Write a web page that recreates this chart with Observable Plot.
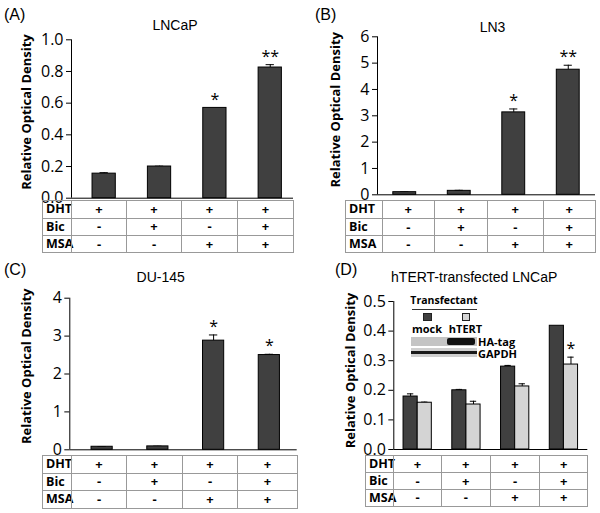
<!DOCTYPE html>
<html><head><meta charset="utf-8">
<script src="https://cdn.jsdelivr.net/npm/d3@7"></script>
<script src="https://cdn.jsdelivr.net/npm/@observablehq/plot@0.6"></script>
<style>
body{margin:0;background:#fff;}
#fig{position:relative;width:600px;height:513px;overflow:hidden;background:#fff;}
.plot{position:absolute;}
.lbl{position:absolute;font-family:"Liberation Sans",Arial,sans-serif;font-size:16px;line-height:1;transform:translateY(-50%);color:#000;}
.ttl{position:absolute;font-family:"Liberation Sans",Arial,sans-serif;font-size:14px;line-height:1;transform:translate(-50%,-50%);white-space:nowrap;color:#000;}
.cell{position:absolute;box-sizing:border-box;border:1px solid #999;font-family:"Open Sans",sans-serif;font-weight:bold;font-size:13px;line-height:1;display:flex;align-items:center;justify-content:center;color:#000;}
.cell.name{justify-content:flex-start;padding-left:3px;font-size:12.5px;}
.ins{position:absolute;font-family:"Open Sans",sans-serif;font-weight:bold;font-size:10.5px;line-height:1;white-space:nowrap;color:#000;}
.box{position:absolute;box-sizing:border-box;}
</style></head>
<body><div id="fig"></div>
<script>
// ---- data ----
const conditionNames = ["DHT", "Bic", "MSA"];
const dht = ["+", "+", "+", "+"];
const bic = ["-", "+", "-", "+"];
const msa = ["-", "-", "+", "+"];

const lncapVal = [0.155, 0.200, 0.570, 0.825];
const lncapErr = [0.006, 0.002, 0.000, 0.018];
const lncapSig = ["", "", "*", "**"];

const ln3Val = [0.10, 0.15, 3.13, 4.75];
const ln3Err = [0.01, 0.02, 0.13, 0.17];
const ln3Sig = ["", "", "*", "**"];

const du145Val = [0.08, 0.09, 2.88, 2.50];
const du145Err = [0.005, 0.005, 0.15, 0.02];
const du145Sig = ["", "", "*", "*"];

const mockVal = [0.179, 0.200, 0.280, 0.418];
const mockErr = [0.009, 0.003, 0.004, 0.000];
const mockSig = ["", "", "", ""];
const htertVal = [0.158, 0.152, 0.213, 0.287];
const htertErr = [0.002, 0.011, 0.009, 0.025];
const htertSig = ["", "", "", "*"];

const ticksA = [0, 0.2, 0.4, 0.6, 0.8, 1.0];
const ticksB = [0, 1, 2, 3, 4, 5, 6];
const ticksC = [0, 1, 2, 3, 4];
const ticksD = [0, 0.1, 0.2, 0.3, 0.4, 0.5];

const titles = ["LNCaP", "LN3", "DU-145", "hTERT-transfected LNCaP"];
const letters = ["(A)", "(B)", "(C)", "(D)"];
const yLabel = "Relative Optical Density";
const insetLegend = ["mock", "hTERT"];
const blotRows = ["HA-tag", "GAPDH"];

const DARK = "#404040", LIGHT = "#d4d4d4";
const fig = document.getElementById("fig");

function chart(o) {
  const rows = [];
  o.series.forEach(s => s.values.forEach((v, i) => {
    rows.push({x1: i + s.off, x2: i + s.off + s.w, xc: i + s.off + s.w / 2,
      v, e: s.errs[i], top: v + s.errs[i], sig: s.sigs[i], fill: s.fill});
  }));
  const errs = rows.filter(d => d.e > 0);
  const p = Plot.plot({
    width: 300, height: 205,
    marginLeft: o.ml, marginRight: o.mr, marginTop: o.mt, marginBottom: o.mb,
    style: {fontFamily: "Open Sans, sans-serif", fontSize: "16px", background: "transparent", overflow: "visible", color: "#000"},
    x: {domain: o.xDomain, axis: null},
    y: {domain: [0, o.ticks[o.ticks.length - 1]], axis: null},
    marks: [
      Plot.ruleX(errs, {x: "xc", y1: "v", y2: "top", stroke: "black", strokeWidth: 1}),
      Plot.ruleY(errs, {y: "top", x1: d => d.xc - o.cap, x2: d => d.xc + o.cap, stroke: "black", strokeWidth: 1}),
      Plot.rect(rows, {x1: "x1", x2: "x2", y1: 0, y2: "v", fill: "fill", stroke: "black", strokeWidth: 1}),
      Plot.ruleY([0], {stroke: "black", strokeWidth: 1}),
      Plot.ruleX([o.xDomain[0]], {stroke: "black", strokeWidth: 1}),
      Plot.axisY({ticks: o.ticks, tickFormat: o.fmt, tickSize: 5, tickPadding: 3, fontSize: 16, label: null, stroke: "black"}),
      Plot.text(rows.filter(d => d.sig), {x: "xc", y: "top", text: "sig", dy: o.sigDy, fontSize: 16, fill: "black"}),
      Plot.text([yLabel], {frameAnchor: "left", textAnchor: "middle", lineAnchor: "middle", rotate: -90, dx: o.labDx, dy: o.labDy, fontWeight: "bold", fontSize: 13, fill: "black"})
    ]
  });
  p.classList.add("plot");
  p.style.left = o.left + "px";
  p.style.top = o.top + "px";
  fig.appendChild(p);
}

function table(o) {
  const cols = [o.left, o.labelEnd, ...o.colEnds];
  const vals = [dht, bic, msa];
  conditionNames.forEach((name, r) => {
    const y0 = o.rows[r], y1 = o.rows[r + 1];
    for (let c = 0; c < cols.length - 1; c++) {
      const d = document.createElement("div");
      d.className = "cell" + (c === 0 ? " name" : "");
      d.style.left = cols[c] + "px";
      d.style.top = y0 + "px";
      d.style.width = (cols[c + 1] - cols[c] + 1) + "px";
      d.style.height = (y1 - y0 + 1) + "px";
      d.textContent = c === 0 ? name : vals[r][c - 1];
      fig.appendChild(d);
    }
  });
}

function addText(cls, txt, x, y, extra) {
  const d = document.createElement("div");
  d.className = cls; d.textContent = txt;
  d.style.left = x + "px"; d.style.top = y + "px";
  if (extra) Object.assign(d.style, extra);
  fig.appendChild(d);
  return d;
}
function addBox(x, y, w, h, styles) {
  const d = document.createElement("div");
  d.className = "box";
  Object.assign(d.style, {left: x + "px", top: y + "px", width: w + "px", height: h + "px"}, styles);
  fig.appendChild(d);
}

// Panel A
chart({left: 0, top: 0, ml: 71, mr: 7, mt: 39.3, mb: 7.3, xDomain: [-0.59, 3.42], ticks: ticksA, fmt: d3.format(".1f"),
  cap: 0.075, sigDy: -8, labDx: -44.3, labDy: -7,
  series: [{values: lncapVal, errs: lncapErr, sigs: lncapSig, fill: DARK, off: -0.21, w: 0.42}]});
table({left: 42, labelEnd: 71, colEnds: [126, 181, 237, 293], rows: [200, 217.5, 235, 252]});

// Panel B
chart({left: 300, top: 0, ml: 77, mr: 5, mt: 36.3, mb: 10.7, xDomain: [-0.5, 3.5], ticks: ticksB, fmt: d3.format("d"),
  cap: 0.075, sigDy: -8, labDx: -41.3, labDy: -6,
  series: [{values: ln3Val, errs: ln3Err, sigs: ln3Sig, fill: DARK, off: -0.21, w: 0.42}]});
table({left: 345, labelEnd: 381.5, colEnds: [434, 487, 542.5, 595], rows: [200, 218, 235, 252]});

// Panel C
chart({left: 0, top: 255, ml: 69.3, mr: 3.3, mt: 42.7, mb: 10.7, xDomain: [-0.58, 3.5], ticks: ticksC, fmt: d3.format("d"),
  cap: 0.075, sigDy: -8, labDx: -42.6, labDy: -7.7,
  series: [{values: du145Val, errs: du145Err, sigs: du145Sig, fill: DARK, off: -0.19, w: 0.38}]});
table({left: 42, labelEnd: 71, colEnds: [126, 182, 237, 297], rows: [455, 472.5, 490, 508]});

// Panel D
chart({left: 300, top: 255, ml: 93.3, mr: 12.7, mt: 46, mb: 11, xDomain: [-0.49, 3.49], ticks: ticksD, fmt: d3.format(".1f"),
  cap: 0.065, sigDy: -8, labDx: -43.3, labDy: -5,
  series: [
    {values: mockVal, errs: mockErr, sigs: mockSig, fill: DARK, off: -0.29, w: 0.29},
    {values: htertVal, errs: htertErr, sigs: htertSig, fill: LIGHT, off: 0, w: 0.29}
  ]});
table({left: 365, labelEnd: 393.3, colEnds: [440.7, 490, 539, 587.3], rows: [455, 472, 489, 505.5]});

// Letters and titles
addText("lbl", letters[0], 4, 15);
addText("lbl", letters[1], 315, 15);
addText("lbl", letters[2], 4, 270);
addText("lbl", letters[3], 335, 270);
addText("ttl", titles[0], 175, 25);
addText("ttl", titles[1], 492.5, 26.5);
addText("ttl", titles[2], 160.7, 276.7);
addText("ttl", titles[3], 474.2, 276.7);

// Inset in panel D (transfectant legend and blot)
addText("ins", "Transfectant", 444, 300, {transform: "translate(-50%,-50%)"});
addBox(411.7, 308.5, 65, 1, {background: "#333"});
addBox(423.3, 312.7, 8.4, 8, {background: DARK, border: "1px solid #222"});
addBox(461.7, 312.7, 8.4, 8, {background: LIGHT, border: "1px solid #222"});
addText("ins", insetLegend[0], 427, 328.3, {transform: "translate(-50%,-50%)", fontSize: "11px"});
addText("ins", insetLegend[1], 465.5, 328.3, {transform: "translate(-50%,-50%)", fontSize: "11px"});
addBox(411, 336.7, 66, 9, {background: "#c4c4c4"});
addBox(446.7, 337.5, 28.5, 7.5, {background: "#111", borderRadius: "2px"});
addBox(411, 348.3, 66, 8.4, {background: "#cfcfcf"});
addBox(411, 351.3, 66, 2.5, {background: "#1a1a1a"});
addText("ins", blotRows[0], 478, 340.5, {transform: "translateY(-50%)", fontSize: "11px"});
addText("ins", blotRows[1], 478, 352.7, {transform: "translateY(-50%)", fontSize: "11px"});
</script>
</body></html>
